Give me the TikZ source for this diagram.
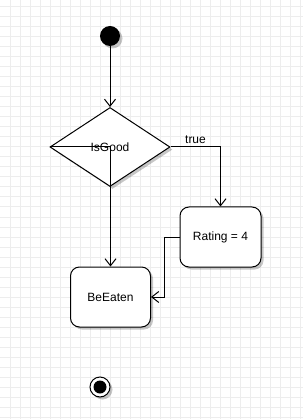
\documentclass[tikz,border=0pt]{standalone}
\usepackage{fontspec}
\setmainfont{Liberation Sans}
\usetikzlibrary{shapes.geometric, arrows.meta, shadows}

\tikzset{
  shadowed/.style={drop shadow={shadow xshift=2.5pt, shadow yshift=-2.5pt, fill=black, opacity=0.22}},
  statebox/.style={draw, fill=white, rounded corners=9pt, minimum width=80pt, minimum height=60pt, shadowed}
}

\begin{document}
\begin{tikzpicture}[x=1pt, y=-1pt, line width=1pt, >={Straight Barb[length=7pt, width=11pt]}, font=\fontsize{12}{14}\selectfont]
\useasboundingbox (0,0) rectangle (303,419);
\fill[white] (0,0) rectangle (303,419);
% background grid
\foreach \x in {10,20,...,300} \draw[black!7] (\x,0) -- (\x,419);
\foreach \y in {7,17,...,417} \draw[black!7] (0,\y) -- (303,\y);

\node[circle, fill=black, minimum size=20pt, inner sep=0pt, shadowed] (start) at (110,36) {};
\node[diamond, draw, fill=white, minimum width=120pt, minimum height=79pt, inner sep=0pt, shadowed] (cond) at (110,147) {IsGood};
\node[statebox, minimum width=81pt] (rate) at (220.5,237) {Rating = 4};
\node[statebox] (eat) at (110.5,297) {BeEaten};
\node[circle, draw, fill=white, minimum size=20pt, inner sep=0pt, shadowed] (stop) at (100,387) {};
\node[circle, fill=black, minimum size=13pt, inner sep=0pt] (stopdot) at (stop) {};

\draw[->] (start) -- (cond.north);
\draw[->] (cond.east) -| node[above, pos=0.25] (truelbl) {true} (rate.north);
\draw[->] (cond.west) -| (eat.north);
\draw[->] (rate.west) -- ++(-15,0) |- (eat.east);
\end{tikzpicture}
\end{document}
